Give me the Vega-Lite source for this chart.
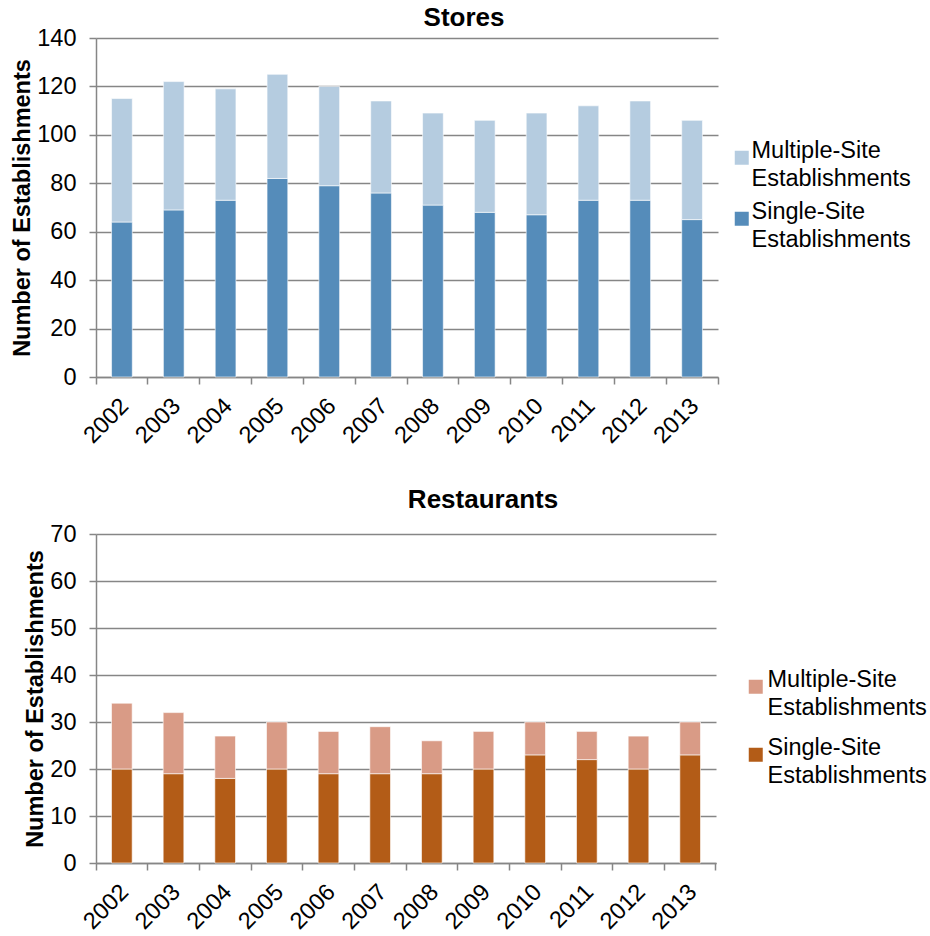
{
  "$schema": "https://vega.github.io/schema/vega-lite/v6.json",
  "background": "white",
  "padding": {"left": 10, "top": 5, "right": 0, "bottom": 0},
  "bounds": "flush",
  "spacing": 157,
  "config": {
    "font": "Liberation Sans",
    "view": {"stroke": null},
    "style": {"guide-label": {"lineHeight": 28}},
    "axis": {
      "domainColor": "#868686",
      "domainWidth": 1.5,
      "tickColor": "#868686",
      "tickWidth": 1.5,
      "tickSize": 7,
      "gridColor": "#868686",
      "gridWidth": 1.5,
      "labelFont": "Liberation Sans",
      "labelFontSize": 23.5,
      "labelColor": "#000000",
      "titleFont": "Liberation Sans",
      "titleFontSize": 23.5,
      "titleFontWeight": "bold",
      "titleColor": "#000000"
    },
    "axisX": {
      "grid": false,
      "labelAngle": -45,
      "labelAlign": "right",
      "labelBaseline": "middle",
      "labelPadding": 18,
      "bandPosition": 1,
      "tickExtra": true,
      "labelOffset": 3
    },
    "axisY": {
      "grid": true,
      "labelPadding": 13,
      "titlePadding": 2
    },
    "title": {
      "font": "Liberation Sans",
      "fontSize": 26,
      "fontWeight": "bold",
      "color": "#000000",
      "anchor": "middle",
      "frame": "group",
      "baseline": "alphabetic"
    },
    "legend": {
      "labelFont": "Liberation Sans",
      "labelFontSize": 23.5,
      "labelColor": "#000000",
      "labelLimit": 400,
      "labelBaseline": "alphabetic",
      "symbolType": "square",
      "symbolSize": 196,
      "symbolStrokeWidth": 0,
      "padding": 0
    }
  },
  "datasets": {
    "stores": [
      {"year": "2002", "type": "Single-Site Establishments", "count": 64},
      {"year": "2002", "type": "Multiple-Site Establishments", "count": 51},
      {"year": "2003", "type": "Single-Site Establishments", "count": 69},
      {"year": "2003", "type": "Multiple-Site Establishments", "count": 53},
      {"year": "2004", "type": "Single-Site Establishments", "count": 73},
      {"year": "2004", "type": "Multiple-Site Establishments", "count": 46},
      {"year": "2005", "type": "Single-Site Establishments", "count": 82},
      {"year": "2005", "type": "Multiple-Site Establishments", "count": 43},
      {"year": "2006", "type": "Single-Site Establishments", "count": 79},
      {"year": "2006", "type": "Multiple-Site Establishments", "count": 41},
      {"year": "2007", "type": "Single-Site Establishments", "count": 76},
      {"year": "2007", "type": "Multiple-Site Establishments", "count": 38},
      {"year": "2008", "type": "Single-Site Establishments", "count": 71},
      {"year": "2008", "type": "Multiple-Site Establishments", "count": 38},
      {"year": "2009", "type": "Single-Site Establishments", "count": 68},
      {"year": "2009", "type": "Multiple-Site Establishments", "count": 38},
      {"year": "2010", "type": "Single-Site Establishments", "count": 67},
      {"year": "2010", "type": "Multiple-Site Establishments", "count": 42},
      {"year": "2011", "type": "Single-Site Establishments", "count": 73},
      {"year": "2011", "type": "Multiple-Site Establishments", "count": 39},
      {"year": "2012", "type": "Single-Site Establishments", "count": 73},
      {"year": "2012", "type": "Multiple-Site Establishments", "count": 41},
      {"year": "2013", "type": "Single-Site Establishments", "count": 65},
      {"year": "2013", "type": "Multiple-Site Establishments", "count": 41}
    ],
    "restaurants": [
      {"year": "2002", "type": "Single-Site Establishments", "count": 20},
      {"year": "2002", "type": "Multiple-Site Establishments", "count": 14},
      {"year": "2003", "type": "Single-Site Establishments", "count": 19},
      {"year": "2003", "type": "Multiple-Site Establishments", "count": 13},
      {"year": "2004", "type": "Single-Site Establishments", "count": 18},
      {"year": "2004", "type": "Multiple-Site Establishments", "count": 9},
      {"year": "2005", "type": "Single-Site Establishments", "count": 20},
      {"year": "2005", "type": "Multiple-Site Establishments", "count": 10},
      {"year": "2006", "type": "Single-Site Establishments", "count": 19},
      {"year": "2006", "type": "Multiple-Site Establishments", "count": 9},
      {"year": "2007", "type": "Single-Site Establishments", "count": 19},
      {"year": "2007", "type": "Multiple-Site Establishments", "count": 10},
      {"year": "2008", "type": "Single-Site Establishments", "count": 19},
      {"year": "2008", "type": "Multiple-Site Establishments", "count": 7},
      {"year": "2009", "type": "Single-Site Establishments", "count": 20},
      {"year": "2009", "type": "Multiple-Site Establishments", "count": 8},
      {"year": "2010", "type": "Single-Site Establishments", "count": 23},
      {"year": "2010", "type": "Multiple-Site Establishments", "count": 7},
      {"year": "2011", "type": "Single-Site Establishments", "count": 22},
      {"year": "2011", "type": "Multiple-Site Establishments", "count": 6},
      {"year": "2012", "type": "Single-Site Establishments", "count": 20},
      {"year": "2012", "type": "Multiple-Site Establishments", "count": 7},
      {"year": "2013", "type": "Single-Site Establishments", "count": 23},
      {"year": "2013", "type": "Multiple-Site Establishments", "count": 7}
    ]
  },
  "resolve": {
    "scale": {"color": "independent", "x": "independent", "y": "independent"},
    "legend": {"color": "independent"}
  },
  "vconcat": [
    {
      "title": {"text": "Stores", "dx": 57, "offset": -5},
      "width": 622,
      "height": 339,
      "data": {"name": "stores"},
      "mark": {"type": "bar", "width": {"band": 0.4}, "stroke": "white", "strokeWidth": 0.6},
      "encoding": {
        "x": {
          "field": "year",
          "type": "ordinal",
          "title": null,
          "scale": {"paddingInner": 0, "paddingOuter": 0}
        },
        "y": {
          "field": "count",
          "type": "quantitative",
          "stack": "zero",
          "title": "Number of Establishments",
          "scale": {"domain": [0, 140], "nice": false},
          "axis": {"values": [0, 20, 40, 60, 80, 100, 120, 140]}
        },
        "color": {
          "field": "type",
          "type": "nominal",
          "scale": {
            "domain": ["Multiple-Site Establishments", "Single-Site Establishments"],
            "range": ["#B5CCE0", "#558CBA"]
          },
          "legend": {
            "title": null,
            "orient": "none",
            "legendX": 634,
            "legendY": 108,
            "labelOffset": -2,
            "rowPadding": 8,
            "labelExpr": "split(datum.label, ' ')"
          }
        },
        "order": {"field": "type", "sort": "descending"}
      }
    },
    {
      "title": {"text": "Restaurants", "dx": 77, "offset": 9},
      "width": 620,
      "height": 329,
      "data": {"name": "restaurants"},
      "mark": {"type": "bar", "width": {"band": 0.4}, "stroke": "white", "strokeWidth": 0.6},
      "encoding": {
        "x": {
          "field": "year",
          "type": "ordinal",
          "title": null,
          "scale": {"paddingInner": 0, "paddingOuter": 0}
        },
        "y": {
          "field": "count",
          "type": "quantitative",
          "stack": "zero",
          "title": "Number of Establishments",
          "scale": {"domain": [0, 70], "nice": false},
          "axis": {"values": [0, 10, 20, 30, 40, 50, 60, 70]}
        },
        "color": {
          "field": "type",
          "type": "nominal",
          "scale": {
            "domain": ["Multiple-Site Establishments", "Single-Site Establishments"],
            "range": ["#D99B86", "#B35C17"]
          },
          "legend": {
            "title": null,
            "orient": "none",
            "legendX": 648,
            "legendY": 141,
            "labelOffset": 0,
            "rowPadding": 15,
            "labelExpr": "split(datum.label, ' ')"
          }
        },
        "order": {"field": "type", "sort": "descending"}
      }
    }
  ]
}
